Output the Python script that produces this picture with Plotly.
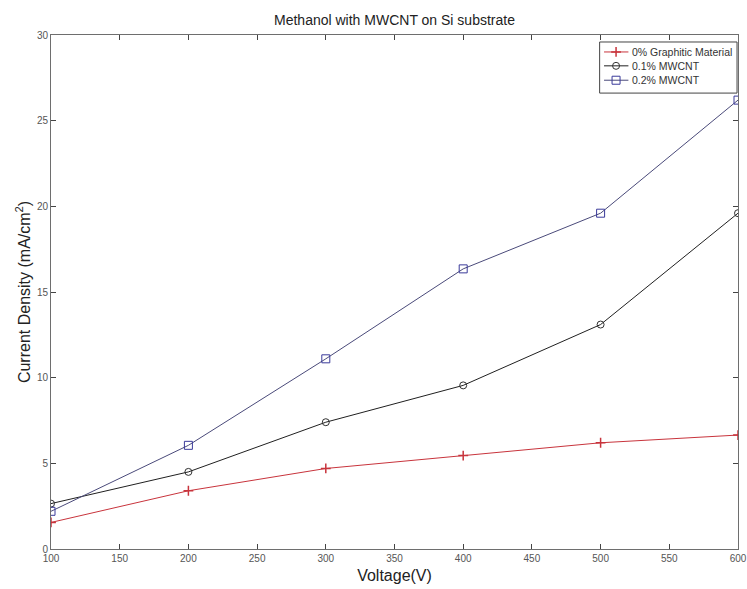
import plotly.graph_objects as go

# Applied voltage (V)
voltage = [100, 200, 300, 400, 500, 600]

# Current density (mA/cm^2) for each film
graphitic_0 = [1.55, 3.4, 4.7, 5.45, 6.2, 6.65]
mwcnt_01 = [2.65, 4.5, 7.4, 9.55, 13.1, 19.6]
mwcnt_02 = [2.2, 6.05, 11.1, 16.35, 19.6, 26.2]

series_names = ["0% Graphitic Material", "0.1% MWCNT", "0.2% MWCNT"]

x_ticks = list(range(100, 601, 50))
y_ticks = list(range(0, 31, 5))

styles = [
    dict(line=dict(color="#c8343c", width=1),
         marker=dict(symbol="cross-thin", size=7, line=dict(color="#c8343c", width=1.5))),
    dict(line=dict(color="#202020", width=1),
         marker=dict(symbol="circle-open", size=7, color="#303030", line=dict(width=1))),
    dict(line=dict(color="#4a4a7a", width=1),
         marker=dict(symbol="square-open", size=8, color="#3a3a9a", line=dict(width=1))),
]

fig = go.Figure()
for name, values, st in zip(series_names, [graphitic_0, mwcnt_01, mwcnt_02], styles):
    fig.add_trace(go.Scatter(x=voltage, y=values, name=name, mode="lines+markers",
                             showlegend=False, **st))

# Legend box (MATLAB style) drawn in a unit overlay coordinate system
box = dict(x0=0.7986, x1=0.9986, y0=0.887, y1=0.9864)
rows = [0.967, 0.940, 0.912]
sample_x0, sample_x1, sample_mid, text_x = 0.805, 0.8405, 0.8225, 0.843
fig.add_shape(type="rect", xref="paper", yref="paper", layer="below",
              line=dict(color="#444444", width=1), fillcolor="white", **box)
for name, row, st in zip(series_names, rows, styles):
    fig.add_trace(go.Scatter(x=[sample_x0, sample_x1], y=[row, row], mode="lines",
                             xaxis="x2", yaxis="y2", showlegend=False, hoverinfo="skip",
                             line=st["line"]))
    fig.add_trace(go.Scatter(x=[sample_mid], y=[row], mode="markers",
                             xaxis="x2", yaxis="y2", showlegend=False, hoverinfo="skip",
                             marker=st["marker"]))
    fig.add_annotation(x=text_x, y=row, xref="paper", yref="paper", text=name,
                       showarrow=False, xanchor="left", yanchor="middle",
                       font=dict(family="Liberation Sans Narrow, Liberation Sans, Arial",
                                 size=10.5, color="#333333"))

tick_font = dict(family="Liberation Sans Narrow, Liberation Sans, Arial", size=10, color="#555555")
axis_common = dict(
    showline=True, linecolor="#6e6e6e", linewidth=1, mirror="ticks",
    ticks="inside", ticklen=5, tickcolor="#444444", tickwidth=1,
    showgrid=False, zeroline=False, tickfont=tick_font, automargin=False,
)

fig.update_layout(
    width=747, height=589,
    margin=dict(l=51, r=9, t=35, b=40, autoexpand=False),
    paper_bgcolor="white", plot_bgcolor="white",
    font=dict(family="Liberation Sans, Arial", color="#222222"),
    title=dict(text="Methanol with MWCNT on Si substrate", x=0.5, xref="paper",
               y=1 - 20 / 589, yanchor="middle", font=dict(size=14, color="#222222")),
    xaxis=dict(range=[100, 600], tickvals=x_ticks, ticklabeloverflow="allow", **axis_common,
               title=dict(text="Voltage(V)", font=dict(size=16), standoff=6)),
    yaxis=dict(range=[0, 30], tickvals=y_ticks, **axis_common,
               title=dict(text="Current Density (mA/cm<sup>2</sup>)", font=dict(size=16), standoff=2)),
    xaxis2=dict(overlaying="x", range=[0, 1], visible=False, fixedrange=True),
    yaxis2=dict(overlaying="y", range=[0, 1], visible=False, fixedrange=True),
    showlegend=False,
)

fig.write_html("out.html")
